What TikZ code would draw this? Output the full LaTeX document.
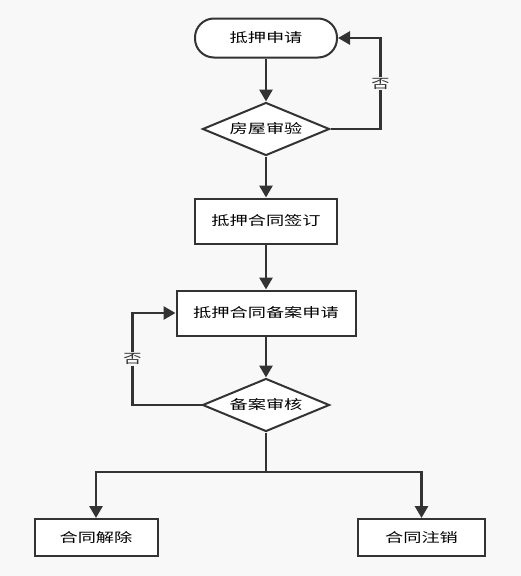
\documentclass[tikz,border=0pt]{standalone}
\usepackage{fontspec}
\usepackage{xcolor}
\usepackage{tikz}
\usetikzlibrary{positioning, shapes.geometric, arrows.meta, calc}
\newfontfamily\cjk[FakeStretch=1.4]{Noto Sans CJK SC}
\definecolor{ptrColor}{RGB}{51,51,51}
\definecolor{bgColor}{RGB}{248,248,248}
\tikzset{
    basenode/.style={
        draw=ptrColor,
        line width=2pt,
        fill=white,
        inner sep=0pt,
        font=\cjk\fontsize{13pt}{15pt}\selectfont
    },
    startnode/.style={
        basenode,
        rounded corners=19pt,
        minimum width=142pt,
        minimum height=39pt
    },
    procnode/.style={
        basenode,
        minimum width=142pt,
        minimum height=45pt
    },
    decnode/.style={
        basenode,
        diamond,
        aspect=2.4,
        minimum width=127pt,
        minimum height=53pt
    },
    endnode/.style={
        basenode,
        minimum height=37pt
    },
    ptr/.style={
        -{Triangle[length=12pt, width=13pt]},
        draw=ptrColor,
        line width=2.8pt
    },
    labelColor/.style={
        fill=bgColor,
        inner sep=1pt,
        text=ptrColor,
        font=\cjk\fontsize{13pt}{15pt}\selectfont
    }
}

\begin{document}
\begin{tikzpicture}[x=1pt, y=-1pt]
                \fill[bgColor] (0,0) rectangle (521,576);
                \useasboundingbox (0,0) rectangle (521,576);
                \node[startnode] (Apply) at (266,38) {抵押申请};
                \node[decnode, below=43pt of Apply] (Check) {房屋审验};
                \node[procnode, below=41pt of Check] (Sign) {抵押合同签订};
                \node[procnode, minimum width=179pt, below=45pt of Sign] (File) {抵押合同备案申请};
                \node[decnode, below=41pt of File] (Review) {备案审核};
                \node[endnode, minimum width=123pt] (Cancel) at (96,537.5) {合同解除};
                \node[endnode, minimum width=127pt] (Void) at (421.5,537.5) {合同注销};
                \coordinate (Split) at (Review |- 0,472);
                \draw[ptr] (Apply) -- (Check);
                \draw[ptr] (Check) -- (Sign);
                \draw[ptr] (Sign) -- (File);
                \draw[ptr] (File) -- (Review);
                \draw[ptr] (Check.east) -- ++(50,0) |- node[pos=0.25, labelColor] {否} (Apply.east);
                \draw[ptr] (Review.west) -- ++(-69,0) |- node[pos=0.25, labelColor] {否} (File.west);
                \draw[ptr, -] (Review) -- (Split);
                \draw[ptr] (Split) -| (Cancel);
                \draw[ptr] (Split) -| (Void);
            \end{tikzpicture}
\end{document}
